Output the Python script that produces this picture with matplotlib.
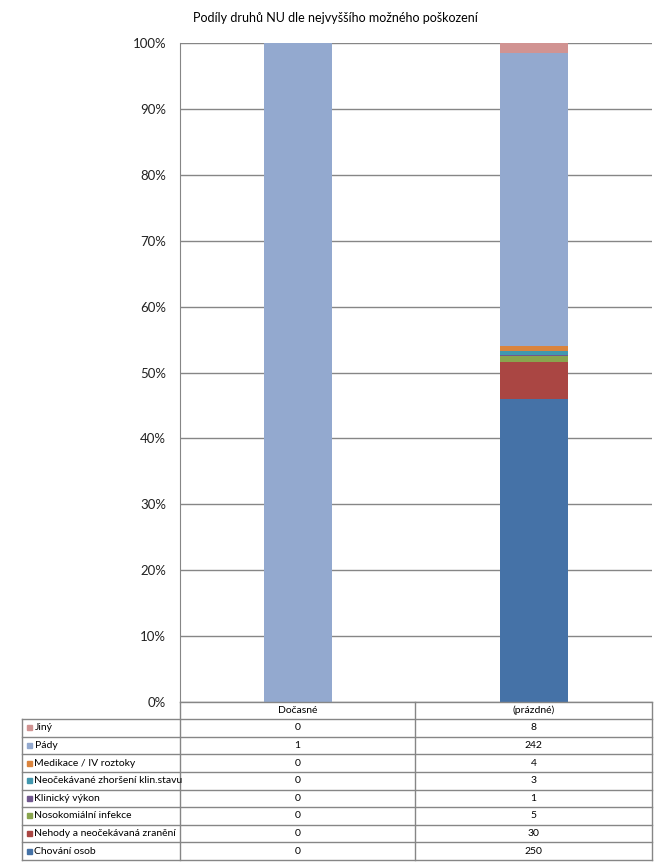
import matplotlib
matplotlib.use("Agg")
import matplotlib.pyplot as plt
import numpy as np

plt.rcParams['font.family'] = ['Lato', 'DejaVu Sans']

categories = ["Dočasné", "(prázdné)"]
series_names = ["Chování osob", "Nehody a neočekávaná zranění", "Nosokomiální infekce",
                "Klinický výkon", "Neočekávané zhoršení klin.stavu", "Medikace / IV roztoky",
                "Pády", "Jiný"]
series_values = [
    [0, 250],
    [0, 30],
    [0, 5],
    [0, 1],
    [0, 3],
    [0, 4],
    [1, 242],
    [0, 8],
]
colors = ["#4572A7", "#AA4643", "#89A54E", "#71588F", "#4198AF", "#DB843D", "#93A9CF", "#D19392"]
yticks = [0, 10, 20, 30, 40, 50, 60, 70, 80, 90, 100]
title = "Podíly druhů NU dle nejvyššího možného poškození"

W, H = 667, 866
fig = plt.figure(figsize=(W/100, H/100), dpi=100)

def fx(px): return px / W
def fy(py): return 1 - py / H

L, R, T, B = 180, 652, 43, 702
ax = fig.add_axes([fx(L), fy(B), fx(R) - fx(L), fy(T) - fy(B)])

vals = np.array(series_values, dtype=float)
tot = vals.sum(axis=0)
pct = vals / tot * 100
x = np.arange(len(categories))
bottom = np.zeros(len(categories))
for i, name in enumerate(series_names):
    ax.bar(x, pct[i], 0.29, bottom=bottom, color=colors[i], linewidth=0, zorder=3)
    bottom += pct[i]

ax.set_xlim(-0.5, len(categories) - 0.5)
ax.set_ylim(0, 100)
ax.set_yticks(yticks)
ax.set_yticklabels([f"{t}%" for t in yticks], fontsize=9.5, color='#222222')
ax.tick_params(axis='y', length=0, pad=10)
ax.set_xticks([])
ax.grid(axis='y', color='#868686', linewidth=1, zorder=0)
for s in ['top', 'right', 'bottom']:
    ax.spines[s].set_visible(False)
ax.spines['left'].set_color('#868686')

fig.text(fx(335), fy(18), title, ha='center', va='center', fontsize=9)

# Table
tL, c1, c2, tR = 22, 180, 415, 652
hdr_top, hdr_bot, tB = 702, 719, 860
nrows = len(series_names)
rowh = (tB - hdr_bot) / nrows
tax = fig.add_axes([0, 0, 1, 1])
tax.set_xlim(0, W)
tax.set_ylim(H, 0)
tax.axis('off')
lc = '#868686'
lw = 1
tax.plot([c1, tR], [hdr_top, hdr_top], color=lc, lw=lw)
tax.plot([c1, c1], [hdr_top, tB], color=lc, lw=lw)
tax.plot([c2, c2], [hdr_top, tB], color=lc, lw=lw)
tax.plot([tR, tR], [hdr_top, tB], color=lc, lw=lw)
tax.plot([tL, tL], [hdr_bot, tB], color=lc, lw=lw)
for r in range(nrows + 1):
    y = hdr_bot + r * rowh
    tax.plot([tL, tR], [y, y], color=lc, lw=lw)
tax.text((c1 + c2) / 2, (hdr_top + hdr_bot) / 2, categories[0], ha='center', va='center', fontsize=7.5)
tax.text((c2 + tR) / 2, (hdr_top + hdr_bot) / 2, categories[1], ha='center', va='center', fontsize=7.5)
order = list(range(nrows))[::-1]
for r, i in enumerate(order):
    yc = hdr_bot + (r + 0.5) * rowh
    tax.add_patch(plt.Rectangle((26.5, yc - 2.5), 5, 5, color=colors[i]))
    tax.text(34.5, yc, series_names[i], ha='left', va='center', fontsize=7.5)
    tax.text((c1 + c2) / 2, yc, f"{int(series_values[i][0])}", ha='center', va='center', fontsize=7.5)
    tax.text((c2 + tR) / 2, yc, f"{int(series_values[i][1])}", ha='center', va='center', fontsize=7.5)

fig.savefig("out.png", dpi=100)
